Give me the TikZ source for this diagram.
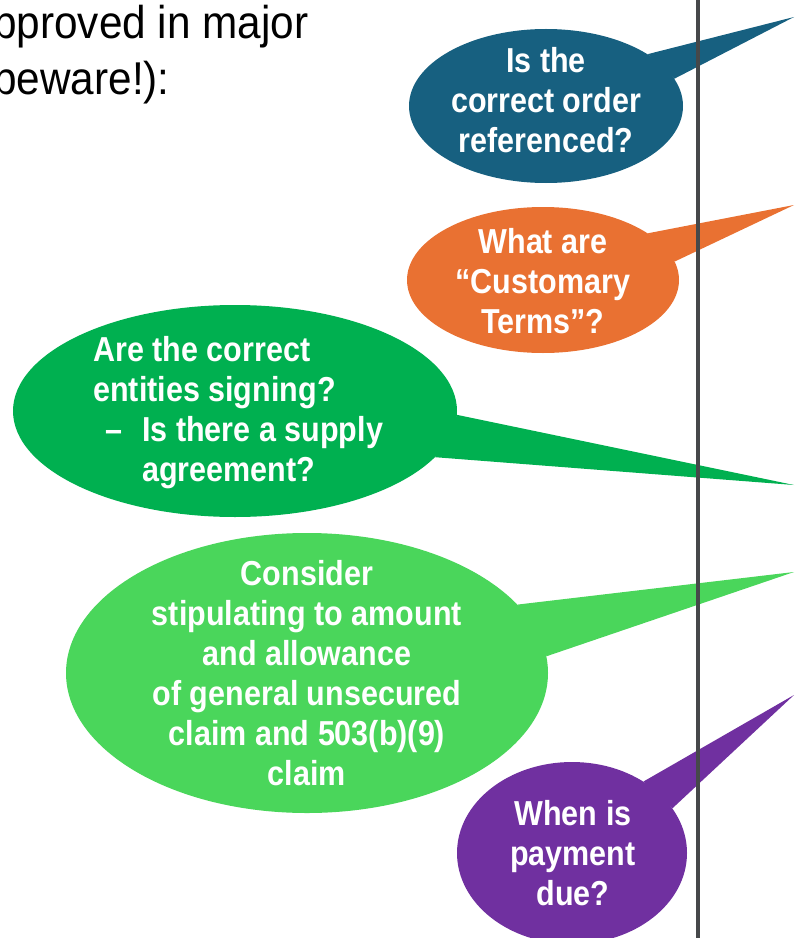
\documentclass[tikz,border=0pt]{standalone}
\usepackage{fontspec}
\setmainfont{Liberation Sans}[FakeStretch = 0.88]
\newfontfamily\introfont{Liberation Sans}[FakeStretch = 0.92]
\usetikzlibrary{shapes.geometric}

\definecolor{bubbleblue}{RGB}{23,96,128}
\definecolor{bubbleorange}{RGB}{233,113,50}
\definecolor{bubblegreen}{RGB}{0,176,80}
\definecolor{bubblelime}{RGB}{74,214,91}
\definecolor{bubblepurple}{RGB}{112,48,160}
\definecolor{rulegray}{RGB}{70,72,74}

\tikzset{
	bubble/.style = {ellipse, inner sep = 0pt, draw = none},
	question/.style = {text = white, align = center, inner sep = 0pt, font = \fontsize{26}{30}\selectfont\bfseries},
}

\begin{document}
\begin{tikzpicture}[x = 0.75pt, y = -0.75pt]

	\useasboundingbox (0, 0) rectangle (794, 938);

	% Heading, cut off at the left edge
	\node [anchor = north west, align = left, inner sep = 0pt, font = \fontsize{34.5}{42}\introfont] (intro) at (-7, 5) {pproved in major\\beware!):};

	% The speech bubbles
	\node [bubble, fill = bubbleblue, minimum width = 205.5pt, minimum height = 115.5pt] (order) at (546, 106) {};
	\node [bubble, fill = bubbleorange, minimum width = 204pt, minimum height = 109.5pt] (terms) at (543, 280) {};
	\node [bubble, fill = bubblegreen, minimum width = 333pt, minimum height = 159pt] (entities) at (235, 411) {};
	\node [bubble, fill = bubblelime, minimum width = 361.5pt, minimum height = 210pt] (claim) at (307, 673) {};
	\node [bubble, fill = bubblepurple, minimum width = 172.5pt, minimum height = 136.5pt] (payment) at (572, 853) {};

	% Their pointers
	\fill [bubbleblue] (order.27.7) -- (794, 17) coordinate (order-tip) -- (order.12.2) -- cycle;
	\fill [bubbleorange] (terms.24.1) -- (794, 205) coordinate (terms-tip) -- (terms.8.7) -- cycle;
	\fill [bubblegreen] (entities.-1.8) -- (794, 485) coordinate (entities-tip) -- (entities.-13.1) -- cycle;
	\fill [bubblelime] (claim.18.8) -- (794, 572) coordinate (claim-tip) -- (claim.4.7) -- cycle;
	\fill [bubblepurple] (payment.45.4) -- (794, 695) coordinate (payment-tip) -- (payment.24) -- cycle;

	% Divider
	\draw [rulegray, line width = 3pt] (698, 0) coordinate (rule-top) -- (698, 938) coordinate (rule-bottom);

	% Texts
	\node [question] (order-text) at (546, 100) {Is the\\correct order\\referenced?};
	\node [question] (terms-text) at (543, 281) {What are\\``Customary\\Terms''?};
	\node [question, align = left, anchor = north west] (entities-text) at (93, 336) {Are the correct\\entities signing?\\\hspace*{9pt}\makebox[27.75pt][l]{--}Is there a supply\\\hspace*{36.75pt}agreement?};
	\node [question] (claim-text) at (307, 673) {Consider\\stipulating to amount\\and allowance\\of general unsecured\\claim and 503(b)(9)\\claim};
	\node [question] (payment-text) at (573, 853) {When is\\payment\\due?};

\end{tikzpicture}
\end{document}
